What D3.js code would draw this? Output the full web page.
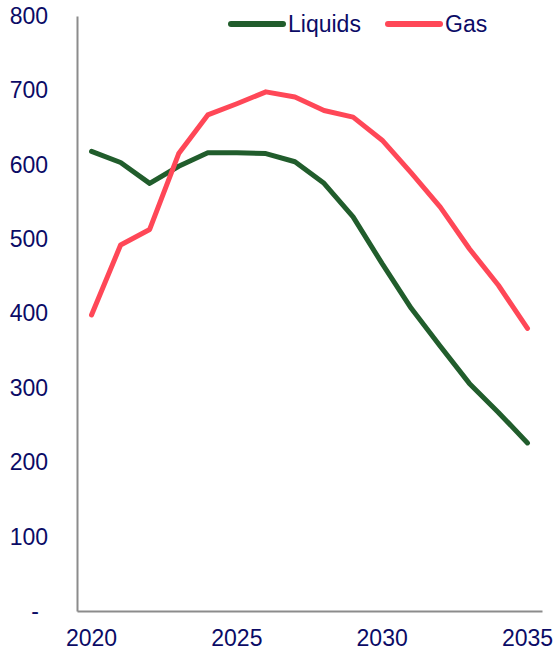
<!DOCTYPE html>
<html>
<head>
<meta charset="utf-8">
<script src="https://cdn.jsdelivr.net/npm/d3@7"></script>
<style>
  body { margin: 0; background: #fff; }
  text { font-family: "Liberation Sans", Arial, sans-serif; fill: #0b0b66; }
</style>
</head>
<body>
<div id="container"></div>
<script>
var width = 557,
    height = 652;

var years = [2020, 2021, 2022, 2023, 2024, 2025, 2026, 2027, 2028, 2029, 2030, 2031, 2032, 2033, 2034, 2035];
var liquids = [618, 603, 575, 598, 616, 616, 615, 604, 575, 530, 467, 407, 356, 306, 267, 226];
var gas = [398, 492, 513, 615, 667, 682, 698, 691, 673, 664, 633, 589, 543, 487, 438, 380];
var yTicks = [0, 100, 200, 300, 400, 500, 600, 700, 800];
var xTicks = [2020, 2025, 2030, 2035];

var series = [
  {name: "Liquids", values: liquids, color: "#215d2c"},
  {name: "Gas", values: gas, color: "#ff4757"}
];

var margin = {top: 16, left: 77, right: 15, bottom: 41};

var svg = d3.select('#container').append('svg')
    .attr("width", width)
    .attr("height", height);

var x = d3.scaleBand()
    .domain(years)
    .range([margin.left, width - margin.right]);

var y = d3.scaleLinear()
    .domain([0, 800])
    .range([height - margin.bottom, margin.top]);

// axes
var yAxis = svg.append("g")
    .attr("transform", "translate(" + margin.left + ",0)")
    .call(d3.axisLeft(y).tickValues(yTicks).tickSize(0).tickPadding(29)
      .tickFormat(function(d) { return d === 0 ? "-" : d; }));
yAxis.select(".domain").attr("stroke", "#8c8c8c").attr("stroke-width", 2);
yAxis.selectAll("text").style("font-size", "23px").attr("fill", "#0b0b66");
yAxis.selectAll(".tick").filter(function(d) { return d === 0; })
    .select("text").attr("x", -38);

var xAxis = svg.append("g")
    .attr("transform", "translate(0," + (height - margin.bottom) + ")")
    .call(d3.axisBottom(x).tickValues(xTicks).tickSize(0).tickPadding(19));
xAxis.select(".domain").attr("stroke", "#8c8c8c").attr("stroke-width", 2);
xAxis.selectAll("text").style("font-size", "23px").attr("fill", "#0b0b66");

// lines
var line = d3.line()
    .x(function(d, i) { return x(years[i]) + x.bandwidth() / 2; })
    .y(function(d) { return y(d); });

svg.selectAll(".series")
    .data(series)
    .enter()
    .append("path")
    .attr("class", "series")
    .attr("fill", "none")
    .attr("stroke", function(d) { return d.color; })
    .attr("stroke-width", 5)
    .attr("stroke-linecap", "round")
    .attr("stroke-linejoin", "round")
    .attr("d", function(d) { return line(d.values); });

// legend
var legendX = [231, 388];
var legend = svg.selectAll(".legend")
    .data(series)
    .enter()
    .append("g")
    .attr("class", "legend")
    .attr("transform", function(d, i) { return "translate(" + legendX[i] + ",24)"; });

legend.append("line")
    .attr("x1", 0).attr("x2", 52)
    .attr("stroke", function(d) { return d.color; })
    .attr("stroke-width", 6)
    .attr("stroke-linecap", "round");

legend.append("text")
    .attr("x", 57)
    .attr("dy", "0.35em")
    .style("font-size", "23px")
    .text(function(d) { return d.name; });
</script>
</body>
</html>
